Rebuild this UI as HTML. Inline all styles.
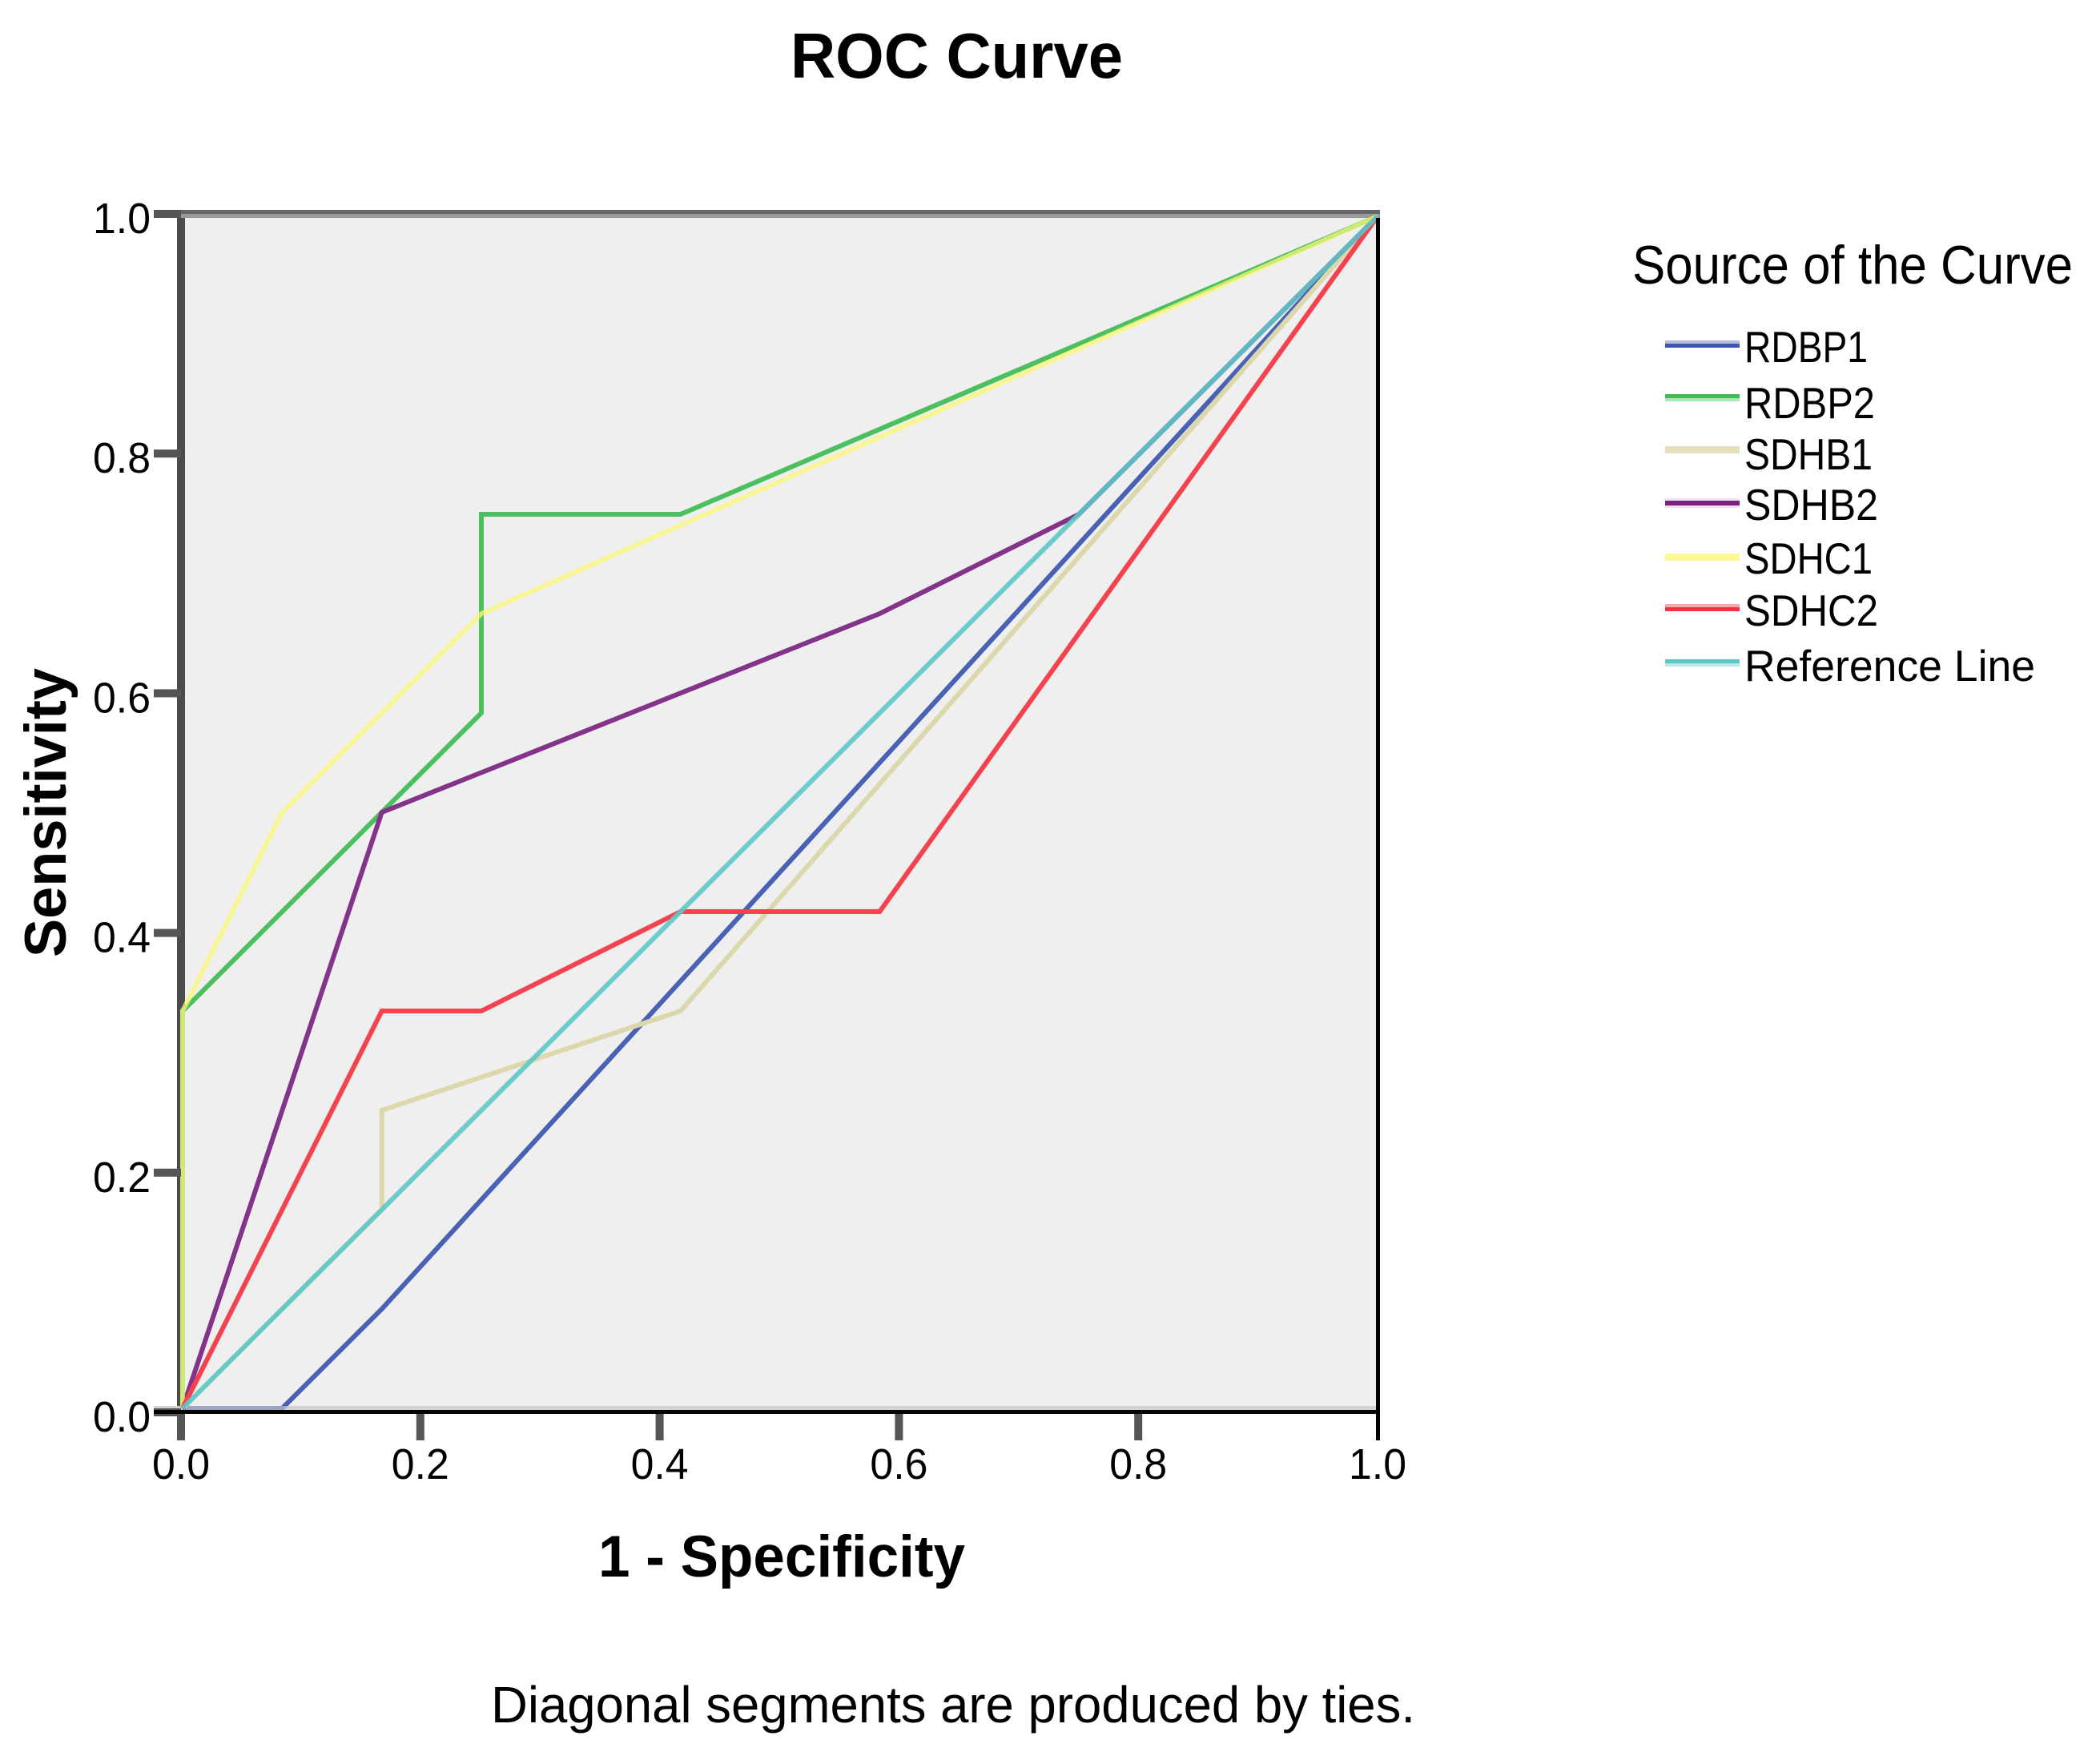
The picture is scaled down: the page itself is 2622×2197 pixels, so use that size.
<!DOCTYPE html>
<html lang="en">
<head>
<meta charset="utf-8">
<title>ROC Curve</title>
<style>
html,body{margin:0;padding:0;background:#fff;width:2622px;height:2197px;overflow:hidden}
svg{display:block;font-family:"Liberation Sans",Arial,sans-serif}
text{fill:#000}
</style>
</head>
<body>
<svg id="chart" xmlns="http://www.w3.org/2000/svg" width="2622" height="2197" viewBox="0 0 2622 2197">
  <rect x="0" y="0" width="2622" height="2197" fill="#ffffff"/>
  <text x="987" y="97" font-size="80" font-weight="700" textLength="415" lengthAdjust="spacingAndGlyphs">ROC Curve</text>

  <rect x="226" y="267" width="1494" height="1496" fill="#efefef"/>
  <g id="under-axes">
    <rect x="221" y="262" width="10" height="1503" fill="#4b4b4b"/>
    <rect x="192" y="262" width="1531" height="5" fill="#666666"/>
    <rect x="192" y="267" width="1531" height="5" fill="#999999"/>
    <rect x="192" y="1755" width="1531" height="5" fill="#d2d2d2"/>
  </g>
  <g id="curves" fill="none" stroke-width="6" stroke-linejoin="miter"></g>
  <g id="ticks"></g>
  <g id="over-axes">
    <rect x="232" y="1755" width="1486" height="5" fill="#d2d2d2" fill-opacity="0.6"/>
    <rect x="192" y="1760" width="1531" height="5" fill="#050505"/>
    <rect x="1718" y="272" width="5" height="1493" fill="#000000"/>
  </g>
  <g id="tick-labels" font-size="54"></g>

  <text transform="translate(82 1195) rotate(-90)" font-size="73" font-weight="700" textLength="361" lengthAdjust="spacingAndGlyphs">Sensitivity</text>
  <text x="747" y="1968" font-size="73" font-weight="700" textLength="458" lengthAdjust="spacingAndGlyphs">1 - Specificity</text>
  <text x="613" y="2150" font-size="64" textLength="1154" lengthAdjust="spacingAndGlyphs">Diagonal segments are produced by ties.</text>

  <g>
    <text x="2038" y="354" font-size="68" textLength="550" lengthAdjust="spacingAndGlyphs">Source of the Curve</text>

    <g>
      <rect x="2079" y="425" width="93" height="4" fill="#b2bddf"/>
      <rect x="2079" y="429" width="93" height="5" fill="#3e58ac"/>
      <text x="2178" y="452" font-size="55" textLength="154" lengthAdjust="spacingAndGlyphs">RDBP1</text>
    </g>
    <g>
      <rect x="2079" y="492" width="93" height="5" fill="#3ebd54"/>
      <rect x="2079" y="497" width="93" height="4" fill="#aee4b6"/>
      <text x="2178" y="522" font-size="55" textLength="163" lengthAdjust="spacingAndGlyphs">RDBP2</text>
    </g>
    <g>
      <rect x="2079" y="557" width="93" height="9" fill="#e4e0bc"/>
      <text x="2178" y="586" font-size="55" textLength="160" lengthAdjust="spacingAndGlyphs">SDHB1</text>
    </g>
    <g>
      <rect x="2079" y="622" width="93" height="12" fill="#f0e2f0"/>
      <rect x="2079" y="625" width="93" height="6" fill="#7b2380"/>
      <text x="2178" y="649" font-size="55" textLength="167" lengthAdjust="spacingAndGlyphs">SDHB2</text>
    </g>
    <g>
      <rect x="2079" y="691" width="93" height="9" fill="#fdf796"/>
      <text x="2178" y="716" font-size="55" textLength="160" lengthAdjust="spacingAndGlyphs">SDHC1</text>
    </g>
    <g>
      <rect x="2079" y="754" width="93" height="4" fill="#f8a9ad"/>
      <rect x="2079" y="758" width="93" height="5" fill="#f5333f"/>
      <text x="2178" y="781" font-size="55" textLength="167" lengthAdjust="spacingAndGlyphs">SDHC2</text>
    </g>
    <g>
      <rect x="2079" y="823" width="93" height="5" fill="#5cc8c4"/>
      <rect x="2079" y="828" width="93" height="4" fill="#b8e8e6"/>
      <text x="2178" y="850" font-size="55" textLength="363" lengthAdjust="spacingAndGlyphs">Reference Line</text>
    </g>
  </g>
</svg>

<script>
// Tick values and labels
const xTickValues = [0, 0.2, 0.4, 0.6, 0.8, 1];
const yTickValues = [0, 0.2, 0.4, 0.6, 0.8, 1];
const xTickLabels = ["0.0", "0.2", "0.4", "0.6", "0.8", "1.0"];
const yTickLabels = ["0.0", "0.2", "0.4", "0.6", "0.8", "1.0"];

// Series: 1 - specificity (x) and sensitivity (y)
const rdbp1X = [0, 0.0833, 0.1667, 1];
const rdbp1Y = [0, 0, 0.0833, 1];
const rdbp2X = [0, 0, 0.1667, 0.25, 0.25, 0.4167, 1];
const rdbp2Y = [0, 0.3333, 0.5, 0.5833, 0.75, 0.75, 1];
const sdhb1X = [0, 0.1667, 0.1667, 0.4167, 1];
const sdhb1Y = [0, 0.1667, 0.25, 0.3333, 1];
const sdhb2X = [0, 0.1667, 0.5833, 0.75, 1];
const sdhb2Y = [0, 0.5, 0.6667, 0.75, 1];
const sdhc1X = [0, 0, 0.0833, 0.25, 1];
const sdhc1Y = [0, 0.3333, 0.5, 0.6667, 1];
const sdhc2X = [0, 0.1667, 0.25, 0.4167, 0.5833, 1];
const sdhc2Y = [0, 0.3333, 0.3333, 0.4167, 0.4167, 1];
const referenceX = [0, 1];
const referenceY = [0, 1];

const NS = "http://www.w3.org/2000/svg";

// Axis functions: frame ticks and curve positions
function tickX(v) { return 226 + 1494 * v; }
function tickY(v) { return 1763 - 1496 * v; }
function curveX(v) { return 228 + 1492 * v; }
function curveY(v) { return 1758 - 1488 * v; }

function drawCurve(name, xs, ys, color, opacity) {
  const line = document.createElementNS(NS, "polyline");
  line.setAttribute("points", xs.map(function (x, i) {
    return curveX(x).toFixed(1) + "," + curveY(ys[i]).toFixed(1);
  }).join(" "));
  line.setAttribute("stroke", color);
  line.setAttribute("stroke-opacity", opacity);
  
  
  document.getElementById("curves").appendChild(line);
}

drawCurve("curve-rdbp1", rdbp1X, rdbp1Y, "#4a62b4", 1);
drawCurve("curve-rdbp2", rdbp2X, rdbp2Y, "#4cbf5e", 1);
drawCurve("curve-sdhb1", sdhb1X, sdhb1Y, "#dcd8ac", 1);
drawCurve("curve-sdhb2", sdhb2X, sdhb2Y, "#83338a", 1);
drawCurve("curve-sdhc1", sdhc1X, sdhc1Y, "#fbf77a", 0.75);
drawCurve("curve-sdhc2", sdhc2X, sdhc2Y, "#f4424e", 1);
drawCurve("curve-reference-line", referenceX, referenceY, "#5cc8c6", 0.9);

const tickGroup = document.getElementById("ticks");
const labelGroup = document.getElementById("tick-labels");

xTickValues.forEach(function (v, i) {
  const last = v === 1;
  const t = document.createElementNS(NS, "rect");
  t.setAttribute("x", last ? 1718 : tickX(v) - 5);
  t.setAttribute("y", 1765);
  t.setAttribute("width", last ? 5 : 10);
  t.setAttribute("height", 33);
  t.setAttribute("fill", last ? "#000000" : "#555555");
  
  
  tickGroup.appendChild(t);

  const l = document.createElementNS(NS, "text");
  l.setAttribute("x", tickX(v) - 36);
  l.setAttribute("y", 1846);
  l.setAttribute("textLength", 72);
  l.setAttribute("lengthAdjust", "spacingAndGlyphs");
  l.textContent = xTickLabels[i];
  
  
  labelGroup.appendChild(l);
});

yTickValues.forEach(function (v, i) {
  const t = document.createElementNS(NS, "rect");
  t.setAttribute("x", 192);
  t.setAttribute("y", tickY(v) - 5);
  t.setAttribute("width", 34);
  t.setAttribute("height", 10);
  t.setAttribute("fill", "#555555");
  
  
  tickGroup.appendChild(t);

  const l = document.createElementNS(NS, "text");
  l.setAttribute("x", 116);
  l.setAttribute("y", tickY(v) + 24);
  l.setAttribute("textLength", 72);
  l.setAttribute("lengthAdjust", "spacingAndGlyphs");
  l.textContent = yTickLabels[i];
  
  
  labelGroup.appendChild(l);
});
</script>
</body>
</html>
